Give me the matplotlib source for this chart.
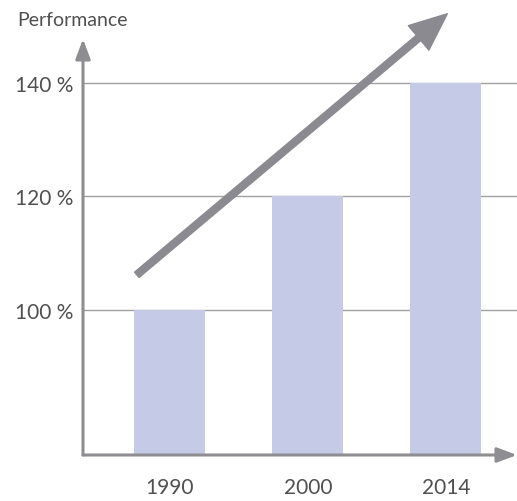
import matplotlib.pyplot as plt

# data
years = ['1990', '2000', '2014']
performance = [100, 120, 140]
yticks = [100, 120, 140]
ytick_labels = ['100 %', '120 %', '140 %']

# trend arrow endpoints (x index, percent)
trend_start = (-0.24, 106.2)
trend_end = (2.01, 152.2)

bar_color = '#c5cae6'
axis_gray = '#8e8e92'
text_color = '#505050'

plt.rcParams['font.family'] = ['Lato', 'DejaVu Sans']

fig = plt.figure(figsize=(5.17, 5.02), dpi=100)
ax = fig.add_axes([83 / 517, 46 / 502, 434 / 517, 416 / 502])

x = list(range(len(years)))
ax.bar(x, performance, width=0.515, color=bar_color, zorder=2)

ax.set_xlim(-0.63, 2.515)
ax.set_ylim(74.45, 147.75)

# gridlines
for v in yticks:
    ax.axhline(v, color='#a0a0a0', lw=1.0, zorder=1)

# axes with arrows
for s in ax.spines.values():
    s.set_visible(False)
ax.annotate('', xy=(0, 1), xytext=(0, 0), xycoords='axes fraction',
            arrowprops=dict(arrowstyle='-|>,head_length=1.2,head_width=0.45',
                            color=axis_gray, lw=2.2, shrinkA=0, shrinkB=0))
ax.annotate('', xy=(1, 0), xytext=(0, 0), xycoords='axes fraction',
            arrowprops=dict(arrowstyle='-|>,head_length=1.2,head_width=0.45',
                            color=axis_gray, lw=2.2, shrinkA=0, shrinkB=0))

ax.set_xticks(x)
ax.set_xticklabels(years)
ax.set_yticks(yticks)
ax.set_yticklabels(ytick_labels)
ax.tick_params(length=0, labelsize=15, labelcolor=text_color)
ax.tick_params(axis='x', pad=16)
ax.tick_params(axis='y', pad=7)

fig.text(17 / 517, 1 - 20 / 502, 'Performance', fontsize=14, color=text_color,
         va='center', ha='left')

# trend arrow
ax.annotate('', xy=trend_end, xytext=trend_start, annotation_clip=False,
            arrowprops=dict(width=5.0, headwidth=23, headlength=27,
                            color='#8a8a90', shrink=0), zorder=3)

fig.savefig('out.png', dpi=100)
